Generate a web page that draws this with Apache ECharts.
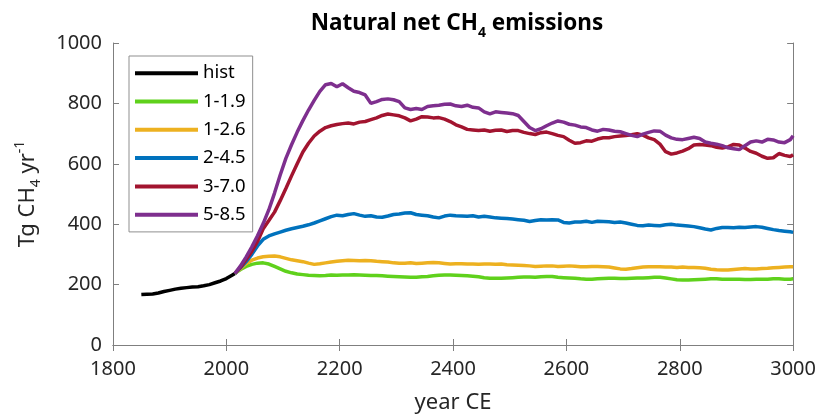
<!DOCTYPE html>
<html>
<head>
<meta charset="utf-8">
<script src="https://cdn.jsdelivr.net/npm/echarts@6/dist/echarts.min.js"></script>
<style>html,body{margin:0;padding:0;background:#fff}#c{width:819px;height:419px}</style>
</head>
<body>
<div id="c"></div>
<script>
// historical period
const histYears = [1850,1860,1870,1880,1890,1900,1910,1920,1930,1940,1950,1960,1970,1980,1990,2000,2010,2015];
const hist      = [167,168,169,172,177,181,185,188,190,192,193,196,200,206,212,220,231,237];

// scenario years: 2015, 2025, ... 2995, then 3000
const scenYears = [];
for (let y = 2015; y <= 2995; y += 10) scenYears.push(y);
scenYears.push(3000);

const s119 = [
  237,250,260,267,271,272,268,260,252,244,
  239,235,233,231,230,229,230,232,231,232,
  232,233,232,231,230,230,229,228,227,226,
  225,224,224,226,227,229,231,232,232,231,
  230,229,228,226,223,221,221,221,222,223,
  224,225,225,224,226,227,227,224,223,222,
  221,219,218,218,219,220,221,221,220,220,
  221,222,222,223,224,224,222,219,216,215,
  215,216,217,218,219,219,218,218,218,218,
  217,217,218,218,218,219,219,218,218,
  219];
const s126 = [
  237,253,270,281,288,292,294,295,292,287,
  282,279,276,271,267,269,272,275,277,279,
  281,280,279,280,279,277,276,275,272,271,
  271,272,270,271,272,273,272,270,268,269,
  269,268,268,267,268,268,267,268,266,265,
  264,263,262,260,261,262,262,260,261,262,
  261,259,259,260,260,259,258,255,252,251,
  253,256,258,259,259,259,258,258,257,258,
  257,257,256,254,251,249,248,248,250,252,
  253,252,252,253,254,256,257,258,259,
  259];
const s245 = [
  237,256,276,300,328,350,361,368,374,380,
  385,389,393,398,404,411,418,425,430,428,
  432,435,430,426,428,424,423,427,432,434,
  437,438,432,430,428,424,421,427,430,428,
  427,426,428,424,426,424,421,420,419,417,
  415,413,409,412,415,414,415,414,406,404,
  407,407,410,406,410,409,408,406,407,404,
  400,396,395,397,396,395,398,400,397,396,
  394,392,388,384,381,386,389,389,388,390,
  389,391,392,390,386,382,379,377,375,
  373];
const s370 = [
  237,258,283,310,343,385,412,440,478,518,
  560,600,639,668,692,708,720,726,730,733,
  735,732,738,740,746,752,760,765,762,759,
  752,742,748,756,755,752,753,748,740,729,
  722,714,712,710,712,708,711,712,707,710,
  710,704,700,697,703,705,700,694,690,678,
  668,670,676,675,682,686,686,690,692,694,
  696,700,695,686,680,665,640,632,636,642,
  650,662,664,662,660,655,652,656,664,662,
  652,641,635,625,618,620,634,628,624,
  630];
const s585 = [
  237,262,292,325,362,402,448,503,563,618,
  663,705,743,778,810,840,862,866,855,865,
  852,840,836,828,800,806,813,815,812,806,
  785,780,783,780,790,792,794,797,798,792,
  790,794,787,785,772,765,772,770,768,766,
  760,740,720,710,716,726,735,742,738,731,
  728,722,720,712,708,714,712,708,706,700,
  694,690,698,704,709,708,695,686,681,680,
  684,688,684,672,668,665,660,653,650,647,
  660,672,676,672,681,679,672,670,680,
  693];

const xTicks = [1800, 3000, 200];
const yTicks = [0, 1000, 200];

const names  = ['hist','1-1.9','1-2.6','2-4.5','3-7.0','5-8.5'];
const colors = ['#000000','#5fd11c','#edb120','#0072bd','#a2142f','#7e2f8e'];

const pair = (xs, ys) => xs.map((x, i) => [x, ys[i]]);
const seriesData = [pair(histYears, hist), pair(scenYears, s119), pair(scenYears, s126),
                    pair(scenYears, s245), pair(scenYears, s370), pair(scenYears, s585)];

const FONT = 'Noto Sans';
const TXT = '#262626';
const LINE = '#7f7f7f';

const chart = echarts.init(document.getElementById('c'), null, {renderer: 'canvas'});
const axisCommon = {
  axisLine: {show: true, lineStyle: {color: LINE, width: 1}},
  axisTick: {show: true, inside: true, length: 6, lineStyle: {color: LINE}},
  splitLine: {show: false}
};
const fmt = v => String(v);
chart.setOption({
  animation: false,
  backgroundColor: '#fff',
  title: {
    text: '{b|Natural net CH}{s|4}{b| emissions}',
    left: 452, top: 3, textAlign: 'center',
    textStyle: {
      rich: {
        b: {fontFamily: FONT, fontSize: 22.5, fontWeight: 'bold', color: '#000', lineHeight: 32, verticalAlign: 'middle'},
        s: {fontFamily: FONT, fontSize: 14, fontWeight: 'bold', color: '#000', lineHeight: 16, verticalAlign: 'bottom'}
      }
    }
  },
  grid: {left: 113, right: 24, top: 43, bottom: 71, containLabel: false},
  legend: {
    orient: 'vertical', left: 129, top: 56,
    data: names,
    icon: 'rect',
    itemWidth: 63, itemHeight: 4, itemGap: 9.3,
    padding: [7.7, 7, 7.7, 6],
    borderColor: '#8f8f8f', borderWidth: 1, backgroundColor: '#fff',
    textStyle: {fontFamily: FONT, fontSize: 18.5, lineHeight: 18, color: '#000'}
  },
  xAxis: [
    Object.assign({}, axisCommon, {
      type: 'value', position: 'bottom', min: xTicks[0], max: xTicks[1], interval: xTicks[2],
      axisLabel: {color: TXT, fontFamily: FONT, fontSize: 20, margin: 14, formatter: fmt},
      name: 'year CE', nameLocation: 'middle', nameGap: 47,
      nameTextStyle: {color: TXT, fontFamily: FONT, fontSize: 22}
    }),
    Object.assign({}, axisCommon, {
      type: 'value', position: 'top', min: xTicks[0], max: xTicks[1], interval: xTicks[2],
      axisLabel: {show: false}
    })
  ],
  yAxis: [
    Object.assign({}, axisCommon, {
      type: 'value', position: 'left', min: yTicks[0], max: yTicks[1], interval: yTicks[2],
      axisLabel: {color: TXT, fontFamily: FONT, fontSize: 20, margin: 11, formatter: fmt},
      name: '{a|Tg CH}{s|4}{a| yr}{p|-1}', nameLocation: 'middle', nameGap: 70, nameRotate: 90,
      nameTextStyle: {
        rich: {
          a: {color: TXT, fontFamily: FONT, fontSize: 22, lineHeight: 30, verticalAlign: 'middle'},
          s: {color: TXT, fontFamily: FONT, fontSize: 14, lineHeight: 16, verticalAlign: 'bottom'},
          p: {color: TXT, fontFamily: FONT, fontSize: 14, lineHeight: 16, verticalAlign: 'top'}
        }
      }
    }),
    Object.assign({}, axisCommon, {
      type: 'value', position: 'right', min: yTicks[0], max: yTicks[1], interval: yTicks[2],
      axisLabel: {show: false}
    })
  ],
  series: names.map((n, i) => ({
    name: n, type: 'line', data: seriesData[i],
    xAxisIndex: 0, yAxisIndex: 0,
    showSymbol: false, symbol: 'none',
    lineStyle: {color: colors[i], width: 3.5},
    itemStyle: {color: colors[i]},
    emphasis: {disabled: true}
  }))
});
</script>
</body>
</html>
